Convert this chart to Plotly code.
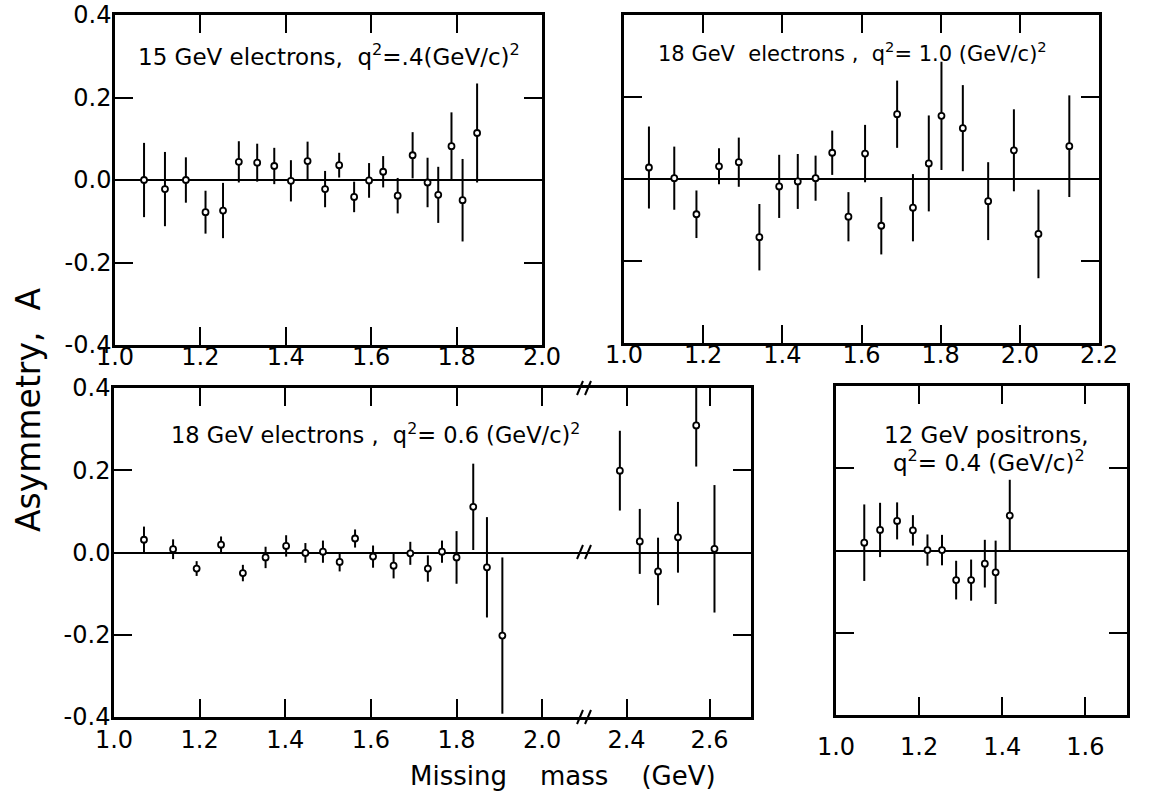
import plotly.graph_objects as go

# ---------------- data ----------------
# Panel A: 15 GeV electrons, q^2 = .4
a_x = [1.068, 1.117, 1.166, 1.212, 1.253, 1.290, 1.333, 1.373, 1.412, 1.451, 1.492,
       1.525, 1.560, 1.595, 1.628, 1.662, 1.697, 1.732, 1.757, 1.788, 1.814, 1.848]
a_y = [0.000, -0.022, 0.000, -0.078, -0.074, 0.044, 0.042, 0.034, -0.002, 0.046, -0.022,
       0.036, -0.041, -0.001, 0.020, -0.038, 0.060, -0.006, -0.036, 0.082, -0.049, 0.114]
a_e = [0.090, 0.090, 0.055, 0.052, 0.067, 0.050, 0.046, 0.044, 0.050, 0.047, 0.044,
       0.030, 0.037, 0.042, 0.038, 0.043, 0.056, 0.060, 0.068, 0.082, 0.100, 0.120]

# Panel B: 18 GeV electrons, q^2 = 1.0
b_x = [1.063, 1.127, 1.183, 1.240, 1.290, 1.342, 1.392, 1.439, 1.484, 1.526, 1.567,
       1.609, 1.650, 1.690, 1.730, 1.770, 1.802, 1.856, 1.920, 1.985, 2.047, 2.125]
b_y = [0.028, 0.002, -0.086, 0.031, 0.041, -0.142, -0.018, -0.006, 0.002, 0.064, -0.092,
       0.062, -0.114, 0.158, -0.070, 0.038, 0.154, 0.124, -0.054, 0.070, -0.134, 0.080]
b_e = [0.100, 0.077, 0.058, 0.044, 0.060, 0.081, 0.077, 0.067, 0.055, 0.054, 0.060,
       0.070, 0.070, 0.082, 0.082, 0.117, 0.132, 0.105, 0.095, 0.100, 0.108, 0.124]

# Panel C: 18 GeV electrons, q^2 = 0.6 (low-mass part)
c_x = [1.070, 1.138, 1.193, 1.250, 1.301, 1.354, 1.402, 1.447, 1.488, 1.527,
       1.563, 1.605, 1.653, 1.692, 1.733, 1.766, 1.800, 1.839, 1.871, 1.907]
c_y = [0.031, 0.008, -0.039, 0.019, -0.050, -0.012, 0.016, -0.001, 0.002, -0.023,
       0.034, -0.010, -0.032, -0.002, -0.039, 0.002, -0.012, 0.111, -0.036, -0.202]
c_e = [0.032, 0.024, 0.018, 0.020, 0.020, 0.026, 0.026, 0.024, 0.027, 0.023,
       0.022, 0.027, 0.031, 0.028, 0.032, 0.027, 0.064, 0.105, 0.122, 0.190]
# Panel C, high-mass part (after axis break)
c2_x = [2.384, 2.432, 2.476, 2.524, 2.568, 2.612]
c2_y = [0.199, 0.027, -0.046, 0.037, 0.309, 0.009]
c2_e = [0.097, 0.079, 0.082, 0.086, 0.100, 0.155]

# Panel D: 12 GeV positrons, q^2 = 0.4
d_x = [1.068, 1.106, 1.147, 1.185, 1.220, 1.255, 1.289, 1.325, 1.358, 1.384, 1.418]
d_y = [0.019, 0.050, 0.072, 0.049, 0.001, 0.001, -0.072, -0.072, -0.032, -0.053, 0.085]
d_e = [0.093, 0.066, 0.045, 0.037, 0.038, 0.037, 0.047, 0.050, 0.058, 0.077, 0.087]

y_ticks = [-0.4, -0.2, 0.0, 0.2, 0.4]
y_tick_text = ["-0.4", "-0.2", "0.0", "0.2", "0.4"]

# ---------------- layout helpers ----------------
W, H = 1155, 804
FONT = "DejaVu Sans"


def fx(p):
    return p / W


def fy(p):
    return 1 - p / H


fig = go.Figure()


def add_series(x, y, e, xa, ya):
    fig.add_trace(go.Scatter(
        x=x, y=y, mode="markers", xaxis=xa, yaxis=ya, showlegend=False,
        marker=dict(symbol="circle", size=6, color="white",
                    line=dict(color="black", width=1.8)),
        error_y=dict(type="data", array=e, visible=True, color="black",
                     thickness=2, width=0),
        cliponaxis=True,
    ))


add_series(a_x, a_y, a_e, "x", "y")
add_series(b_x, b_y, b_e, "x2", "y2")
add_series(c_x, c_y, c_e, "x3", "y3")
add_series(c2_x, c2_y, c2_e, "x4", "y4")
add_series(d_x, d_y, d_e, "x5", "y5")

tick_font = dict(family=FONT, size=24, color="black")
axis_common = dict(showgrid=False, ticks="inside", ticklen=18, tickwidth=2,
                   tickcolor="black", showline=True, linecolor="black",
                   linewidth=2.5, tickfont=tick_font, automargin=False)


def xax(domain, rng, anchor, mirror="ticks", dtick=0.2, tick0=1.0, standoff=0):
    return dict(axis_common, domain=[fx(domain[0]), fx(domain[1])], range=rng,
                anchor=anchor, mirror=mirror, tickmode="linear", tick0=tick0,
                dtick=dtick, tickformat=".1f", zeroline=False,
                ticklabelstandoff=standoff)


def yax(domain, anchor, mirror="ticks", labels=True, side="left"):
    return dict(axis_common, domain=[fy(domain[1]), fy(domain[0])],
                range=[-0.4, 0.4], anchor=anchor, mirror=mirror,
                tickmode="array", tickvals=y_ticks,
                ticktext=y_tick_text if labels else [""] * len(y_ticks),
                showticklabels=labels, side=side, ticklabelstandoff=-4,
                zeroline=True, zerolinecolor="black", zerolinewidth=2)


fig.update_layout(
    width=W, height=H,
    margin=dict(l=0, r=0, t=0, b=0, autoexpand=False),
    paper_bgcolor="white", plot_bgcolor="white",
    font=dict(family=FONT, color="black"),
    xaxis=xax((115, 542), [1.0, 2.0], "y", standoff=-12),
    yaxis=yax((15, 345), "x"),
    xaxis2=xax((624, 1099), [1.0, 2.2], "y2", standoff=-12),
    yaxis2=yax((15, 343), "x2", labels=False),
    xaxis3=xax((114, 585), [1.0, 2.1], "y3", standoff=-1),
    yaxis3=yax((388, 717), "x3", mirror=False),
    xaxis4=xax((585, 751), [2.3, 2.7], "y4", tick0=2.4, standoff=-1),
    yaxis4=yax((388, 717), "x4", mirror=False, labels=False, side="right"),
    xaxis5=xax((836, 1127), [1.0, 1.7], "y5", standoff=8),
    yaxis5=yax((386, 715), "x5", labels=False),
)

# ---------------- text ----------------
annotations = [
    dict(x=fx(329), y=fy(55), size=23,
         text="15 GeV electrons,  q<sup>2</sup>=.4(GeV/c)<sup>2</sup>"),
    dict(x=fx(852), y=fy(52), size=21,
         text="18 GeV  electrons ,  q<sup>2</sup>= 1.0 (GeV/c)<sup>2</sup>"),
    dict(x=fx(375), y=fy(433), size=22.5,
         text="18 GeV electrons ,  q<sup>2</sup>= 0.6 (GeV/c)<sup>2</sup>"),
    dict(x=fx(986), y=fy(435), size=23, text="12 GeV positrons,"),
    dict(x=fx(989), y=fy(461), size=23,
         text="q<sup>2</sup>= 0.4 (GeV/c)<sup>2</sup>"),
]
for a in annotations:
    size = a.pop("size")
    fig.add_annotation(xref="paper", yref="paper", showarrow=False,
                       xanchor="center", yanchor="middle",
                       font=dict(family=FONT, size=size, color="black"), **a)

fig.add_annotation(xref="paper", yref="paper", x=fx(29), y=fy(410),
                   xanchor="center", yanchor="middle",
                   text="Asymmetry,  A", textangle=-90, showarrow=False,
                   font=dict(family=FONT, size=33, color="black"))
fig.add_annotation(xref="paper", yref="paper", x=fx(563), y=fy(776),
                   xanchor="center", yanchor="middle",
                   text="Missing    mass    (GeV)", showarrow=False,
                   font=dict(family=FONT, size=26, color="black"))

# axis-break marks
for yb in (388, 552, 717):
    for dx in (-5, 3):
        fig.add_shape(type="line", xref="paper", yref="paper",
                      x0=fx(585 + dx - 3), y0=fy(yb + 7),
                      x1=fx(585 + dx + 3), y1=fy(yb - 7),
                      line=dict(color="black", width=2))

fig.write_html("out.html")
